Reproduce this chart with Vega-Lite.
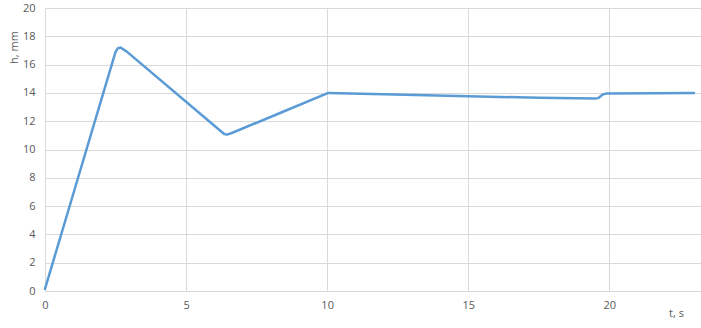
{
  "$schema": "https://vega.github.io/schema/vega-lite/v6.json",
  "width": 656,
  "height": 283,
  "autosize": "none",
  "padding": {"left": 45, "top": 8, "right": 0, "bottom": 37},
  "background": "white",
  "config": {
    "view": {"stroke": null},
    "font": "Open Sans",
    "axis": {
      "labelFont": "Open Sans",
      "titleFont": "Open Sans",
      "labelColor": "#595959",
      "titleColor": "#595959",
      "labelFontSize": 11,
      "titleFontSize": 11,
      "titleFontWeight": "normal",
      "gridColor": "#d9d9d9",
      "gridWidth": 1,
      "domainColor": "#d9d9d9",
      "ticks": false
    }
  },
  "data": {
    "values": [
      {"t": 0.0, "h": 0.15},
      {"t": 0.94, "h": 6.45},
      {"t": 2.5, "h": 16.9},
      {"t": 2.58, "h": 17.15},
      {"t": 2.68, "h": 17.2},
      {"t": 2.8, "h": 17.05},
      {"t": 2.9, "h": 16.92},
      {"t": 6.35, "h": 11.1},
      {"t": 6.45, "h": 11.05},
      {"t": 6.6, "h": 11.15},
      {"t": 8.33, "h": 12.58},
      {"t": 10.04, "h": 14.0},
      {"t": 12.0, "h": 13.9},
      {"t": 15.0, "h": 13.76},
      {"t": 17.5, "h": 13.66},
      {"t": 19.5, "h": 13.6},
      {"t": 19.6, "h": 13.63},
      {"t": 19.78, "h": 13.9},
      {"t": 19.9, "h": 13.95},
      {"t": 21.5, "h": 13.98},
      {"t": 23.0, "h": 14.0}
    ]
  },
  "mark": {"type": "line", "color": "#5b9bd5", "strokeWidth": 2.5, "interpolate": "linear", "strokeCap": "round", "strokeJoin": "round"},
  "encoding": {
    "x": {
      "field": "t",
      "type": "quantitative",
      "scale": {"domain": [0, 23.25], "nice": false, "zero": true},
      "axis": {
        "values": [0, 5, 10, 15, 20],
        "grid": true,
        "domain": true,
        "labelPadding": 8,
        "labelFlush": false,
        "title": "t, s",
        "titleX": 631,
        "titleY": 25,
        "titleAlign": "center",
        "titleBaseline": "alphabetic"
      }
    },
    "y": {
      "field": "h",
      "type": "quantitative",
      "scale": {"domain": [0, 20], "nice": false},
      "axis": {
        "values": [0, 2, 4, 6, 8, 10, 12, 14, 16, 18, 20],
        "grid": true,
        "domain": false,
        "labelPadding": 10,
        "title": "h, mm",
        "titleAngle": -90,
        "titleX": -28,
        "titleY": 39,
        "titleAlign": "center",
        "titleBaseline": "alphabetic"
      }
    }
  }
}
